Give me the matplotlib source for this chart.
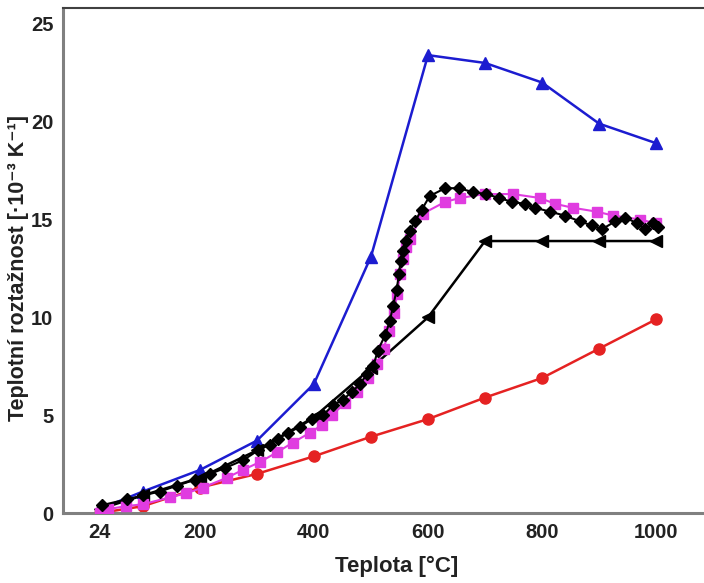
import numpy as np
import matplotlib
matplotlib.use("Agg")
import matplotlib.pyplot as plt

plt.rcParams['font.family'] = ['Liberation Sans', 'DejaVu Sans']

# blue triangles
t_blue = [24, 100, 200, 300, 400, 500, 600, 700, 800, 900, 1000]
v_blue = [0.2, 1.1, 2.2, 3.7, 6.6, 13.1, 23.4, 23.0, 22.0, 19.9, 18.9]

# red circles
t_red = [24, 100, 200, 300, 400, 500, 600, 700, 800, 900, 1000]
v_red = [0.0, 0.35, 1.3, 2.0, 2.9, 3.9, 4.8, 5.9, 6.9, 8.4, 9.9]

# black left-pointing triangles
t_tri = [24, 100, 200, 300, 400, 500, 600, 700, 800, 900, 1000]
v_tri = [0.2, 0.9, 1.8, 3.2, 4.9, 7.4, 10.0, 13.9, 13.9, 13.9, 13.9]

# magenta squares
t_mag = [24, 39, 70, 100, 147, 175, 205, 247, 275, 305, 335, 363, 393, 414,
         431, 454, 475, 495, 510, 522, 532, 540, 546, 551, 556, 562, 568, 591,
         630, 656, 700, 749, 796, 823, 854, 896, 925, 972, 1000]
v_mag = [0.0, 0.2, 0.35, 0.45, 0.8, 1.0, 1.3, 1.8, 2.2, 2.6, 3.1, 3.6, 4.1, 4.5,
         5.0, 5.6, 6.2, 6.9, 7.6, 8.4, 9.3, 10.2, 11.2, 12.2, 13.0, 13.6, 14.0, 15.3,
         15.9, 16.1, 16.3, 16.3, 16.1, 15.8, 15.6, 15.4, 15.2, 15.0, 14.8]

# black diamonds
t_dia = [28, 72, 100, 130, 160, 191, 218, 244, 276, 302, 323, 337, 355, 375,
         396, 416, 433, 451, 467, 481, 493, 504, 512, 525, 533, 539, 545, 549,
         552, 556, 561, 568, 577, 589, 603, 630, 654, 679, 702, 725, 747, 770,
         788, 814, 840, 867, 887, 905, 928, 946, 967, 980, 995, 1003]
v_dia = [0.4, 0.7, 0.9, 1.1, 1.4, 1.7, 2.0, 2.3, 2.7, 3.2, 3.5, 3.8, 4.1, 4.4,
         4.8, 5.0, 5.5, 5.8, 6.2, 6.6, 7.1, 7.5, 8.3, 9.1, 9.8, 10.6, 11.4, 12.2,
         12.9, 13.4, 13.9, 14.4, 14.9, 15.5, 16.2, 16.6, 16.6, 16.4, 16.3, 16.1, 15.9, 15.8,
         15.6, 15.4, 15.2, 14.9, 14.7, 14.5, 14.9, 15.1, 14.8, 14.5, 14.8, 14.6]

x_ticks = [24, 200, 400, 600, 800, 1000]
y_ticks = [0, 5, 10, 15, 20, 25]

fig = plt.figure(figsize=(7.04, 5.83), dpi=100)
ax = fig.add_axes([0.0895, 0.12, 0.9105, 0.866])

ax.plot(t_red, v_red, color='#e52222', marker='o', markersize=8, lw=1.8, zorder=2)
ax.plot(t_blue, v_blue, color='#1c1cd0', marker='^', markersize=9, lw=1.8, zorder=2)
ax.plot(t_tri, v_tri, color='black', marker='<', markersize=8, lw=1.8, zorder=3)
ax.plot(t_mag, v_mag, color='#e03ce0', marker='s', markersize=7, lw=1.5, zorder=4)
ax.plot(t_dia, v_dia, color='black', marker='D', markersize=6.5, lw=1.5, zorder=5)

ax.set_xlim(-40, 1084)
ax.set_ylim(0, 25.8)
ax.set_xticks(x_ticks)
ax.set_yticks(y_ticks)
ax.tick_params(length=0, pad=7, labelsize=14.5)
for lab in ax.get_xticklabels() + ax.get_yticklabels():
    lab.set_fontweight('bold')
    lab.set_color('#222222')

for side in ['left', 'bottom']:
    ax.spines[side].set_color('#808080')
    ax.spines[side].set_linewidth(2.2)
ax.spines['top'].set_color('#404040')
ax.spines['top'].set_linewidth(1.5)
ax.spines['right'].set_visible(False)

ax.set_xlabel('Teplota [°C]', fontsize=16, fontweight='bold', color='#222222')
ax.xaxis.set_label_coords(0.521, -0.085)
ax.set_ylabel('Teplotní roztažnost [·10⁻³ K⁻¹]', fontsize=15.5, fontweight='bold',
              color='#222222')
ax.yaxis.set_label_coords(-0.053, 0.485)

fig.savefig('out.png', dpi=100)
